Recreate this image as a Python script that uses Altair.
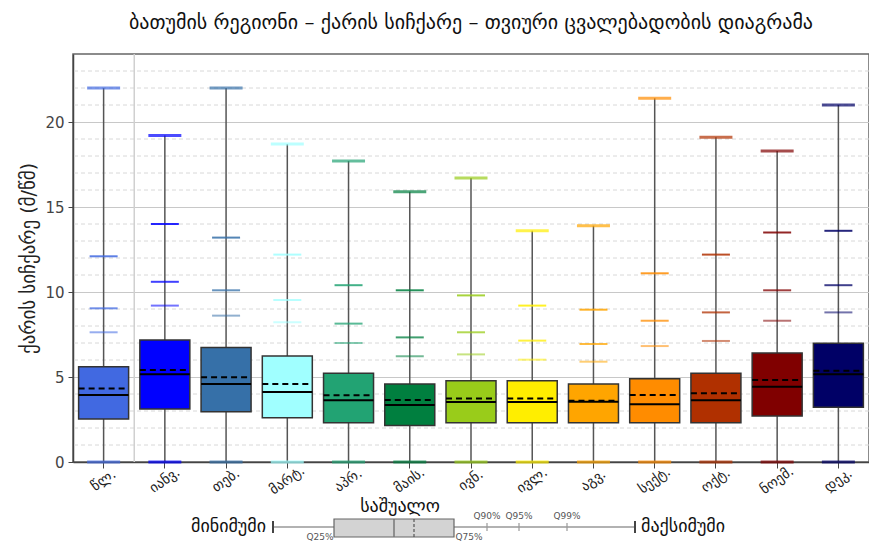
import altair as alt
import pandas as pd

# ---------------- data ----------------
months = ["წლ.", "იანვ.", "თებ.", "მარტ.", "აპრ.", "მაის.", "ივნ.",
          "ივლ.", "აგვ.", "სექტ.", "ოქტ.", "ნოემ.", "დეკ."]
colors = ["#4169E1", "#0000FF", "#3670A8", "#A0FFFF", "#22A373", "#007F3F",
          "#99CC1A", "#FFEE00", "#FFA500", "#FF8C00", "#B03000", "#800000",
          "#000066"]
v_min = [0.0, 0.0, 0.0, 0.0, 0.0, 0.0, 0.0, 0.0, 0.0, 0.0, 0.0, 0.0, 0.0]
v_q25 = [2.53, 3.12, 2.96, 2.61, 2.31, 2.14, 2.31, 2.31, 2.31, 2.31, 2.31, 2.71, 3.22]
v_med = [3.94, 5.16, 4.59, 4.12, 3.63, 3.35, 3.53, 3.53, 3.55, 3.39, 3.63, 4.43, 5.16]
v_avg = [4.33, 5.41, 4.98, 4.59, 3.92, 3.65, 3.74, 3.74, 3.61, 3.94, 4.04, 4.82, 5.37]
v_q75 = [5.61, 7.18, 6.73, 6.24, 5.22, 4.59, 4.78, 4.78, 4.59, 4.90, 5.22, 6.41, 6.98]
v_q90 = [7.63, 9.2, 8.61, 8.22, 7.0, 6.22, 6.33, 6.02, 5.9, 6.82, 7.12, 8.31, 8.8]
v_q95 = [9.04, 10.6, 10.1, 9.53, 8.14, 7.33, 7.63, 7.14, 6.94, 8.31, 8.8, 10.1, 10.4]
v_q99 = [12.1, 14.0, 13.2, 12.2, 10.4, 10.1, 9.8, 9.2, 8.96, 11.1, 12.2, 13.5, 13.6]
v_max = [22.0, 19.2, 22.0, 18.7, 17.7, 15.9, 16.7, 13.6, 13.9, 21.4, 19.1, 18.3, 21.0]

y_major = [0, 5, 10, 15, 20]
y_minor = [1, 2, 3, 4, 6, 7, 8, 9, 11, 12, 13, 14, 16, 17, 18, 19, 21, 22, 23]

title_text = "ბათუმის რეგიონი – ქარის სიჩქარე – თვიური ცვალებადობის დიაგრამა"
y_title = "ქარის სიჩქარე (მ/წმ)"

# legend (explanatory mini box plot under the chart)
leg_labels_left = ["მინიმუმი"]
leg_labels_right = ["მაქსიმუმი"]
leg_label_mean = ["საშუალო"]
leg_q_labels = ["Q25%", "Q75%", "Q90%", "Q95%", "Q99%"]

# ---------------- tables ----------------
df = pd.DataFrame(dict(month=months, mn=v_min, q25=v_q25, med=v_med, avg=v_avg,
                       q75=v_q75, q90=v_q90, q95=v_q95, q99=v_q99, mx=v_max))
pct = pd.concat([
    pd.DataFrame(dict(month=months, v=v_q90, op=[0.55] * 13)),
    pd.DataFrame(dict(month=months, v=v_q95, op=[0.75] * 13)),
    pd.DataFrame(dict(month=months, v=v_q99, op=[0.85] * 13)),
])
caps = pd.concat([
    pd.DataFrame(dict(month=months, v=v_max)),
    pd.DataFrame(dict(month=months, v=v_min)),
])

W, H = 796, 408
OX, OY = 73, 54  # plot origin on the page (used for legend placement)

yscale = alt.Scale(domain=[0, 24], nice=False, zero=True)
yaxis = alt.Axis(values=y_major, grid=True, gridColor="#c8c8c8", gridWidth=1,
                 domainColor="#444", domainWidth=1.5, tickColor="#444",
                 tickSize=5, labelFontSize=15, labelColor="#444",
                 titleFontSize=19, titleFontWeight="normal", titleColor="#222",
                 titlePadding=6, labelPadding=4)
xaxis = alt.Axis(labelAngle=-35, labelFontSize=14, labelColor="#222",
                 labelAlign="center", labelBaseline="middle", labelPadding=12,
                 tickColor="#444", tickSize=6, domainColor="#444",
                 domainWidth=1.5, grid=False)
xscale = alt.Scale(domain=months, paddingInner=0, paddingOuter=0)


def X(**kw):
    return alt.X("month:N", scale=xscale, axis=xaxis, sort=months, title=None, **kw)


def Y(field):
    return alt.Y(f"{field}:Q", scale=yscale, axis=yaxis, title=y_title)


col = alt.Color("month:N", scale=alt.Scale(domain=months, range=colors), legend=None)

minor = alt.Chart(pd.DataFrame({"v": y_minor})).mark_rule(
    color="#d8d8d8", strokeDash=[4, 3], strokeWidth=1
).encode(y=Y("v"))

sep = alt.Chart(pd.DataFrame({"month": [months[0]]})).mark_rule(
    color="#d0d0d0", strokeWidth=1.5
).encode(x=X(bandPosition=1))

whisk = alt.Chart(df).mark_rule(color="#555", strokeWidth=1.5).encode(
    x=X(), y=Y("mn"), y2="mx:Q")

pticks = alt.Chart(pct).mark_tick(size=28, thickness=2).encode(
    x=X(), y=Y("v"), color=col, opacity=alt.Opacity("op:Q", scale=None))

capm = alt.Chart(caps).mark_tick(size=33, thickness=3).encode(
    x=X(), y=Y("v"), color=col)

box = alt.Chart(df).mark_bar(width=50, stroke="#333", strokeWidth=1.5).encode(
    x=X(), y=Y("q25"), y2="q75:Q", color=col)

median = alt.Chart(df).mark_rule(color="black", strokeWidth=2,
                                 xOffset=-25, x2Offset=25).encode(
    x=X(), x2="month:N", y=Y("med"))

mean = alt.Chart(df).mark_rule(color="black", strokeWidth=2, strokeDash=[6, 4],
                               xOffset=-25, x2Offset=25).encode(
    x=X(), x2="month:N", y=Y("avg"))

# ---------- legend below the chart (pixel positions, no scales) ----------
def P(field):
    return alt.X(f"{field}:Q", scale=None, axis=None)


def PY(field):
    return alt.Y(f"{field}:Q", scale=None, axis=None)


lg_line = pd.DataFrame(dict(x1=[273 - OX], x2=[635 - OX], y1=[527 - OY]))
leg_whisk = alt.Chart(lg_line).mark_rule(color="#999", strokeWidth=1.5).encode(
    x=P("x1"), x2="x2:Q", y=PY("y1"))

lg_box = pd.DataFrame(dict(x1=[334 - OX], x2=[454 - OX], y1=[519 - OY], y2=[537 - OY]))
leg_box = alt.Chart(lg_box).mark_rect(fill="#d3d3d3", stroke="#666", strokeWidth=1.2).encode(
    x=P("x1"), x2="x2:Q", y=PY("y1"), y2="y2:Q")

lg_med = pd.DataFrame(dict(x1=[394 - OX], y1=[519 - OY], y2=[537 - OY]))
leg_med = alt.Chart(lg_med).mark_rule(color="#777", strokeWidth=1.5).encode(
    x=P("x1"), y=PY("y1"), y2="y2:Q")
lg_mean = pd.DataFrame(dict(x1=[414 - OX], y1=[519 - OY], y2=[537 - OY]))
leg_mean = alt.Chart(lg_mean).mark_rule(color="#555", strokeWidth=1.2, strokeDash=[3, 2]).encode(
    x=P("x1"), y=PY("y1"), y2="y2:Q")

lg_ends = pd.DataFrame(dict(x1=[273 - OX, 635 - OX], y1=[521 - OY] * 2, y2=[533 - OY] * 2))
leg_ends = alt.Chart(lg_ends).mark_rule(color="#444", strokeWidth=2).encode(
    x=P("x1"), y=PY("y1"), y2="y2:Q")
lg_q = pd.DataFrame(dict(x1=[487 - OX, 519 - OX, 567 - OX], y1=[523 - OY] * 3, y2=[531 - OY] * 3))
leg_q = alt.Chart(lg_q).mark_rule(color="#999", strokeWidth=1.2).encode(
    x=P("x1"), y=PY("y1"), y2="y2:Q")

lt_left = pd.DataFrame(dict(t=leg_labels_left, x1=[266 - OX], y1=[527 - OY]))
leg_t_left = alt.Chart(lt_left).mark_text(align="right", baseline="middle", fontSize=18,
                                          color="#111").encode(
    x=P("x1"), y=PY("y1"), text="t:N")
lt_right = pd.DataFrame(dict(t=leg_labels_right, x1=[641 - OX], y1=[527 - OY]))
leg_t_right = alt.Chart(lt_right).mark_text(align="left", baseline="middle", fontSize=18,
                                            color="#111").encode(
    x=P("x1"), y=PY("y1"), text="t:N")
lt_mean = pd.DataFrame(dict(t=leg_label_mean, x1=[400 - OX], y1=[507 - OY]))
leg_t_mean = alt.Chart(lt_mean).mark_text(align="center", baseline="middle", fontSize=18,
                                          color="#111").encode(
    x=P("x1"), y=PY("y1"), text="t:N")
lt_q = pd.DataFrame(dict(t=leg_q_labels,
                         x1=[320 - OX, 469 - OX, 487 - OX, 519 - OX, 567 - OX],
                         y1=[537 - OY, 537 - OY, 516 - OY, 516 - OY, 516 - OY]))
leg_t_q = alt.Chart(lt_q).mark_text(align="center", baseline="middle", fontSize=9,
                                    color="#555").encode(
    x=P("x1"), y=PY("y1"), text="t:N")

chart = alt.layer(
    minor, sep, whisk, pticks, capm, box, median, mean,
    leg_whisk, leg_box, leg_med, leg_mean, leg_ends, leg_q,
    leg_t_left, leg_t_right, leg_t_mean, leg_t_q,
).properties(
    width=W, height=H,
    autosize=alt.AutoSizeParams(type="none"),
    padding={"left": 65, "top": 46, "right": 0, "bottom": 80},
    title=alt.Title(title_text, fontSize=20, fontWeight="normal", color="#111",
                    offset=20, anchor="middle"),
).configure(font="DejaVu Sans").configure_view(stroke="#666", strokeWidth=1.5)

chart.save("out.html", embed_options={"renderer": "svg", "actions": False})
